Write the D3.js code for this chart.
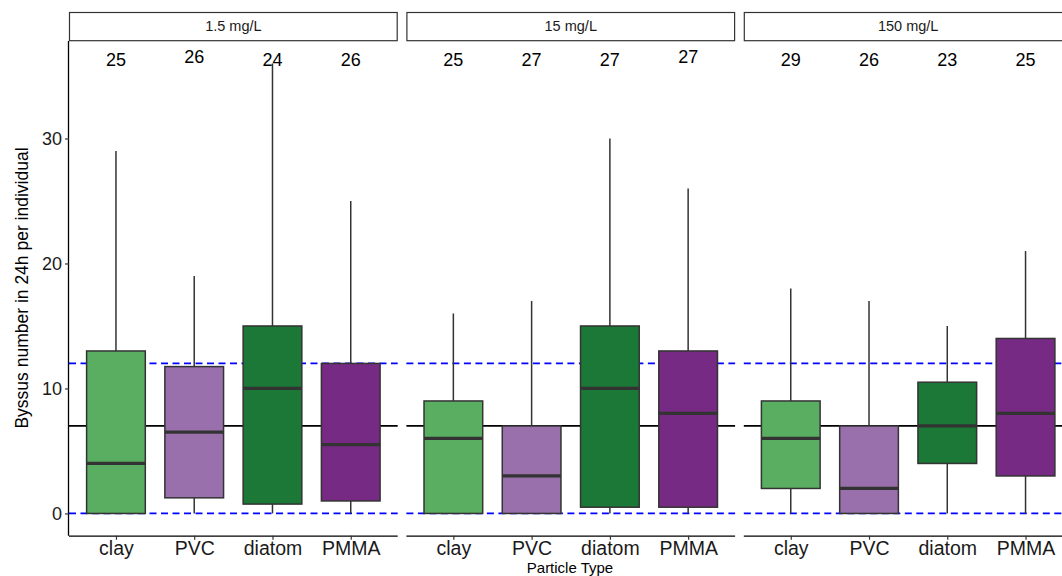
<!DOCTYPE html>
<html><head><meta charset="utf-8">
<script src="https://cdn.jsdelivr.net/npm/d3@7"></script>
<style>body{margin:0;background:#fff}svg{display:block;font-family:"Liberation Sans",Arial,sans-serif}</style>
</head><body><svg id="c" width="1062" height="576"></svg>
<script>
// ---- data ----
const panels = ["1.5 mg/L", "15 mg/L", "150 mg/L"];
const categories = ["clay", "PVC", "diatom", "PMMA"];
const colors = ["#5AAE61", "#9970AB", "#1B7837", "#762A83"];
// per panel, per category
const whiskerLow = [[0,0,0,0],[0,0,0,0],[0,0,0,0]];
const q1 =         [[0,1.25,0.75,1],[0,0,0.5,0.5],[2,0,4,3]];
const median =     [[4,6.5,10,5.5],[6,3,10,8],[6,2,7,8]];
const q3 =         [[13,11.75,15,12],[9,7,15,13],[9,7,10.5,14]];
const whiskerHigh =[[29,19,36,25],[16,17,30,26],[18,17,15,21]];
const counts =     [[25,26,24,26],[25,27,27,27],[29,26,23,25]];
const countY =     [[35.8,36.05,35.8,35.8],[35.8,35.8,35.8,36.05],[35.8,35.8,35.8,35.8]];
const yTicks = [0, 10, 20, 30];
const meanLine = 7;
const dashedLines = [0, 12];

// ---- layout ----
const svg = d3.select("#c");
const mLeft = 69, mRight = 1072.5, gap = 8.7, mTop = 41, mBottom = 535.7;
const pw = (mRight - mLeft - 2*gap) / 3;
const y = d3.scaleLinear().domain([-1.78, 37.8]).range([mBottom, mTop]);

panels.forEach((p, pi) => {
  const x0 = mLeft + pi*(pw + gap);
  const step = pw / 4.2;
  const x = d3.scalePoint().domain(categories).range([x0 + 0.6*step, x0 + 3.6*step]);
  const bw = step*0.75;
  const g = svg.append("g");

  // strip
  g.append("rect").attr("x", x0+0.5).attr("y", 12.5).attr("width", pw-1).attr("height", 28.2)
    .attr("fill", "#fff").attr("stroke", "#333").attr("stroke-width", 1.2);
  g.append("text").attr("x", x0 + pw/2).attr("y", 31).attr("text-anchor", "middle")
    .attr("font-size", 14.5).attr("fill", "#1a1a1a").text(p);

  // reference lines
  g.append("line").attr("x1", x0).attr("x2", x0+pw).attr("y1", y(meanLine)).attr("y2", y(meanLine))
    .attr("stroke", "#000").attr("stroke-width", 1.8);
  dashedLines.forEach(v => {
    g.append("line").attr("x1", x0).attr("x2", x0+pw).attr("y1", y(v)).attr("y2", y(v))
      .attr("stroke", "#0000FF").attr("stroke-width", 1.8).attr("stroke-dasharray", "7,4.5");
  });

  categories.forEach((c, ci) => {
    const xc = x(c);
    g.append("line").attr("x1", xc).attr("x2", xc).attr("y1", y(q3[pi][ci])).attr("y2", y(whiskerHigh[pi][ci]))
      .attr("stroke", "#333").attr("stroke-width", 1.5);
    g.append("line").attr("x1", xc).attr("x2", xc).attr("y1", y(q1[pi][ci])).attr("y2", y(whiskerLow[pi][ci]))
      .attr("stroke", "#333").attr("stroke-width", 1.5);
    g.append("rect").attr("x", xc - bw/2).attr("y", y(q3[pi][ci]))
      .attr("width", bw).attr("height", y(q1[pi][ci]) - y(q3[pi][ci]))
      .attr("fill", colors[ci]).attr("stroke", "#333").attr("stroke-width", 1.5);
    g.append("line").attr("x1", xc - bw/2).attr("x2", xc + bw/2).attr("y1", y(median[pi][ci])).attr("y2", y(median[pi][ci]))
      .attr("stroke", "#333").attr("stroke-width", 3.2);
    g.append("text").attr("x", xc).attr("y", y(countY[pi][ci])).attr("text-anchor", "middle")
      .attr("font-size", 18).attr("fill", "#000").text(counts[pi][ci]);
  });

  // x axis
  const ax = g.append("g").attr("transform", `translate(0,${mBottom})`)
    .call(d3.axisBottom(x).tickSize(4).tickPadding(1));
  ax.select(".domain").attr("d", `M${x0},0.5H${x0+pw}`).attr("stroke", "#000").attr("stroke-width", 1.3);
  ax.selectAll(".tick line").attr("stroke", "#333").attr("stroke-width", 1.2);
  ax.selectAll(".tick text").attr("font-size", 19.5).attr("fill", "#1a1a1a")
    .attr("font-family", '"Liberation Sans",Arial,sans-serif');

  if (pi === 0) {
    const ay = g.append("g").attr("transform", `translate(${x0},0)`)
      .call(d3.axisLeft(y).tickValues(yTicks).tickSize(4).tickPadding(3));
    ay.select(".domain").attr("d", `M-0.5,${mTop}V${mBottom}`).attr("stroke", "#000").attr("stroke-width", 1.3);
    ay.selectAll(".tick line").attr("stroke", "#333").attr("stroke-width", 1.2);
    ay.selectAll(".tick text").attr("font-size", 18).attr("fill", "#1a1a1a")
      .attr("font-family", '"Liberation Sans",Arial,sans-serif');
  }
});

// axis titles
svg.append("text").attr("transform", `translate(28,288) rotate(-90)`).attr("text-anchor", "middle")
  .attr("font-size", 17.5).attr("fill", "#000").text("Byssus number in 24h per individual");
svg.append("text").attr("x", 570).attr("y", 572.7).attr("text-anchor", "middle")
  .attr("font-size", 15).attr("fill", "#000").text("Particle Type");
</script></body></html>
